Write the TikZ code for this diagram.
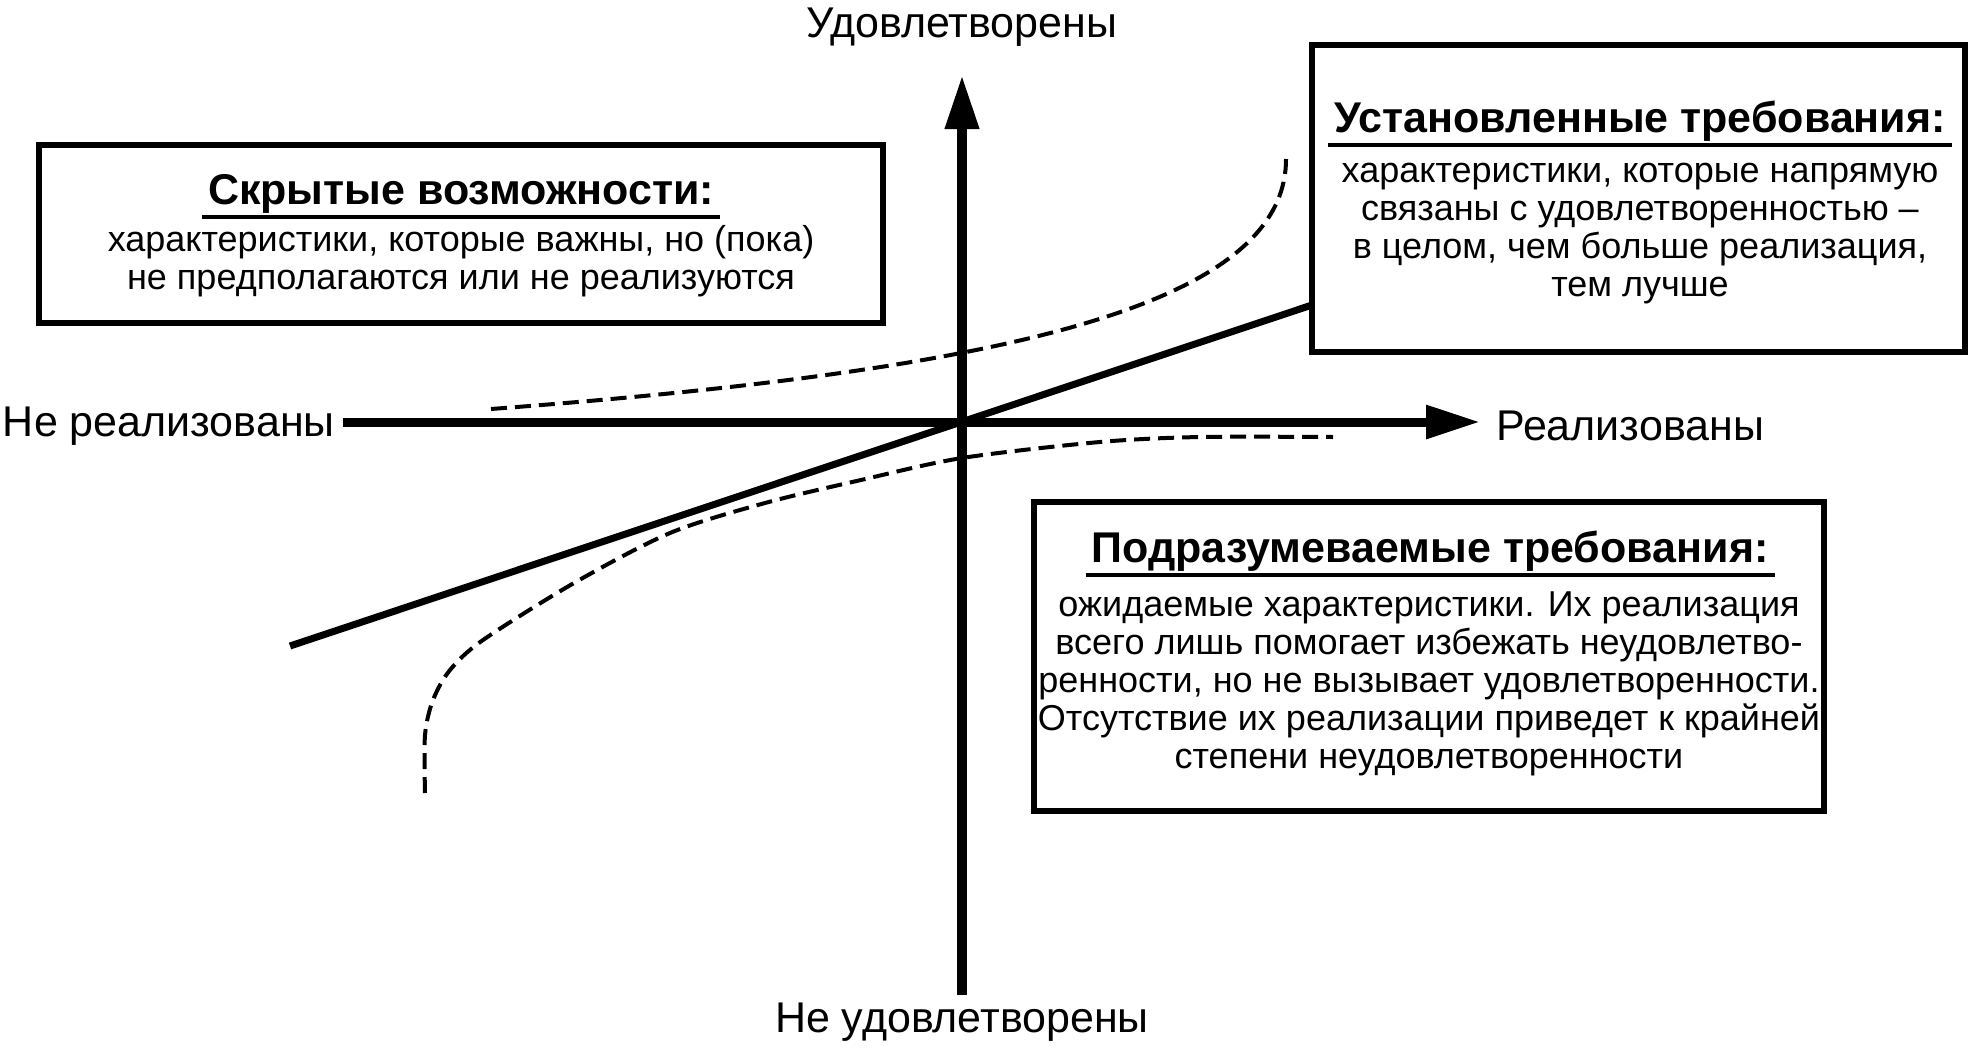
\documentclass[tikz,border=0pt]{standalone}
\usepackage{fontspec}
\setmainfont{Liberation Sans}
\usetikzlibrary{arrows.meta,positioning}

\begin{document}
\begin{tikzpicture}[x=1pt,y=-1pt,>={Triangle[length=54pt,width=32pt]},
                    line join=miter]
  \tikzstyle{infobox}=[draw,line width=6pt,fill=white,inner sep=0pt]
  \tikzstyle{boxtitle}=[inner xsep=6pt,inner ysep=4pt,text depth=9pt,
                        font=\fontsize{43}{46}\selectfont\bfseries]
  \tikzstyle{boxtext}=[inner sep=0pt,align=center,font=\fontsize{36}{38}\selectfont]
  \tikzstyle{axislabel}=[inner sep=0pt,font=\fontsize{43}{46}\selectfont]
  \tikzstyle{dashcurve}=[line width=4pt,dash pattern=on 16pt off 8pt]
  \tikzstyle{underline}=[line width=3.5pt]

  \useasboundingbox (0,0) rectangle (1975,1047);

  % axes
  \coordinate (O) at (962,422);
  \coordinate (xmin) at (343,422);
  \coordinate (xmax) at (1480,422);
  \coordinate (ymax) at (962,75);
  \coordinate (ymin) at (962,995);

  \draw[line width=10pt,->] (ymin) -- (ymax);
  \draw[line width=9pt,->] (xmin) -- (xmax);

  \node[axislabel] (sat)    [above=28pt of ymax] {Удовлетворены};
  \node[axislabel] (unsat)  [below=8pt of ymin]  {Не удовлетворены};
  \node[axislabel] (unreal) [left=8pt of xmin,yshift=-4pt]   {Не реализованы};
  \node[axislabel] (real)   [right=16pt of xmax,yshift=-4pt] {Реализованы};

  % straight line
  \coordinate (lo) at (290,646);
  \coordinate (hi) at (1330,299);
  \draw[line width=7pt] (lo) -- (hi);

  % dashed curves
  \draw[dashcurve] (491,409) .. controls (991,371) and (1286,309) .. (1286,159);
  \draw[dashcurve] plot[smooth] coordinates {(425,793) (425,735) (433,700)
    (450,670) (483,640) (574,583) (670,533) (765,503) (861,480) (962,458)
    (1100,442) (1200,437) (1333,437)};

  % boxes (text nodes: base = last line)
  \node[infobox,minimum width=844pt,minimum height=178pt] (hidden) at (461,234) {};
  \node[boxtitle,anchor=base] (hiddentitle) at (461,204) {Скрытые возможности:};
  \draw[underline] (hiddentitle.south west) -- (hiddentitle.south east);
  \node[boxtext,anchor=base] (hiddentext) at (461,289)
    {характеристики, которые важны, но (пока)\\не предполагаются или не реализуются};

  \node[infobox,minimum width=653pt,minimum height=307pt] (stated) at (1638.5,198.5) {};
  \node[boxtitle,anchor=base] (statedtitle) at (1640,132) {Установленные требования:};
  \draw[underline] (statedtitle.south west) -- (statedtitle.south east);
  \node[boxtext,anchor=base] (statedtext) at (1640,296)
    {характеристики, которые напрямую\\связаны с удовлетворенностью –\\в целом, чем больше реализация,\\тем лучше};

  \node[infobox,minimum width=790pt,minimum height=309pt] (implied) at (1429,656.5) {};
  \node[boxtitle,anchor=base] (impliedtitle) at (1430,562) {Подразумеваемые требования:};
  \draw[underline] (impliedtitle.south west) -- (impliedtitle.south east);
  \node[boxtext,anchor=base] (impliedtext) at (1429,768)
    {ожидаемые характеристики. Их реализация\\всего лишь помогает избежать неудовлетво-\\ренности, но не вызывает удовлетворенности.\\Отсутствие их реализации приведет к крайней\\степени неудовлетворенности};
\end{tikzpicture}
\end{document}
